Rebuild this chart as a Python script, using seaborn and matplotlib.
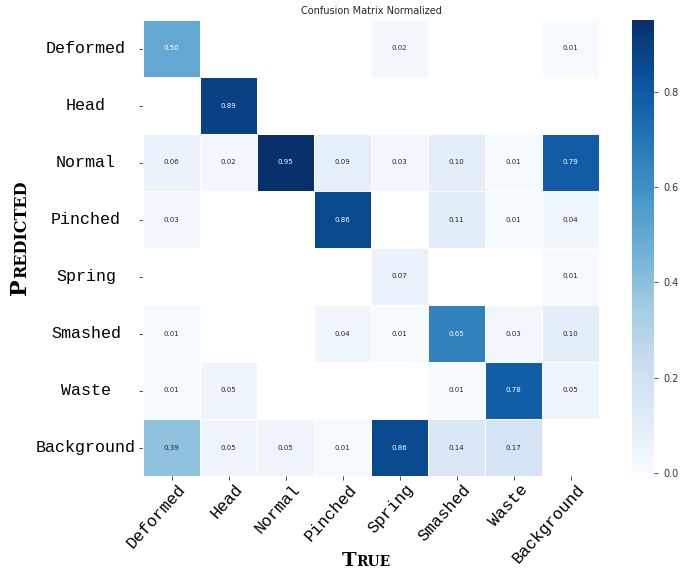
import numpy as np
import pandas as pd
import matplotlib
matplotlib.use("Agg")
import matplotlib.pyplot as plt
import matplotlib.transforms as mtransforms
import seaborn as sns

classes = ["Deformed", "Head", "Normal", "Pinched", "Spring", "Smashed", "Waste", "Background"]
row_deformed = [0.50, 0, 0, 0, 0.02, 0, 0, 0.01]
row_head = [0, 0.89, 0, 0, 0, 0, 0, 0]
row_normal = [0.06, 0.02, 0.95, 0.09, 0.03, 0.10, 0.01, 0.79]
row_pinched = [0.03, 0, 0, 0.86, 0, 0.11, 0.01, 0.04]
row_spring = [0, 0, 0, 0, 0.07, 0, 0, 0.01]
row_smashed = [0.01, 0, 0, 0.04, 0.01, 0.65, 0.03, 0.10]
row_waste = [0.01, 0.05, 0, 0, 0, 0.01, 0.78, 0.05]
row_background = [0.39, 0.05, 0.05, 0.01, 0.86, 0.14, 0.17, 0]

matrix = pd.DataFrame([row_deformed, row_head, row_normal, row_pinched,
                       row_spring, row_smashed, row_waste, row_background],
                      index=classes, columns=classes)
mask = matrix.values == 0

sns.set_theme(style="white")
fig = plt.figure(figsize=(6.91, 5.69), dpi=100)
W, H = 691, 569
ax = fig.add_axes([143 / W, 1 - 476 / H, (599 - 143) / W, (476 - 20) / H])
cax = fig.add_axes([632 / W, 1 - 473 / H, 22 / W, (473 - 20) / H])

sns.heatmap(matrix, mask=mask, annot=True, fmt=".2f", cmap="Blues", vmin=0, vmax=0.95,
            linewidths=0.6, linecolor="white", annot_kws={"size": 5},
            ax=ax, cbar_ax=cax, square=False)

ax.set_title("Confusion Matrix Normalized", fontsize=7, pad=4)
mono = "Liberation Mono"
ax.set_yticklabels(classes, rotation=0, fontsize=12, family=mono, ha="center")
ax.set_xticklabels(classes, rotation=48, fontsize=12, family=mono, ha="right",
                   rotation_mode="anchor")
ax.tick_params(axis="y", length=3, width=0.6, pad=38, colors="#333333", labelcolor="black")
ax.tick_params(axis="x", length=3, width=0.6, pad=1, colors="#333333", labelcolor="black")
ax.tick_params(left=True, bottom=True)
shift = mtransforms.ScaledTranslation(6 / 100, 0, fig.dpi_scale_trans)
for lab in ax.get_xticklabels():
    lab.set_transform(lab.get_transform() + shift)
ax.set_xlabel("")
ax.set_ylabel("")

cax.tick_params(labelsize=7, length=3, width=0.6, colors="#333333", left=False, right=True)
cax.set_yticks([0.0, 0.2, 0.4, 0.6, 0.8])
for s in cax.spines.values():
    s.set_visible(False)

# small-caps style axis labels
lab_font = dict(family="DejaVu Serif", weight="bold", color="black")
fig.canvas.draw()
r = fig.canvas.get_renderer()
# Predicted (rotated)
x0, y0 = 26 / W, 1 - 295 / H
t1 = fig.text(x0, y0, "P", rotation=90, rotation_mode="anchor", ha="left", va="baseline",
              fontsize=16, **lab_font)
bb = t1.get_window_extent(r)
fig.text(x0, y0 + bb.height / H, "REDICTED", rotation=90, rotation_mode="anchor",
         ha="left", va="baseline", fontsize=11.5, **lab_font)
# True
x1, y1 = 342 / W, 1 - 566 / H
t2 = fig.text(x1, y1, "T", ha="left", va="baseline", fontsize=14, **lab_font)
bb2 = t2.get_window_extent(r)
fig.text(x1 + bb2.width / W, y1, "RUE", ha="left", va="baseline", fontsize=10, **lab_font)

fig.savefig("out.png", dpi=100)
